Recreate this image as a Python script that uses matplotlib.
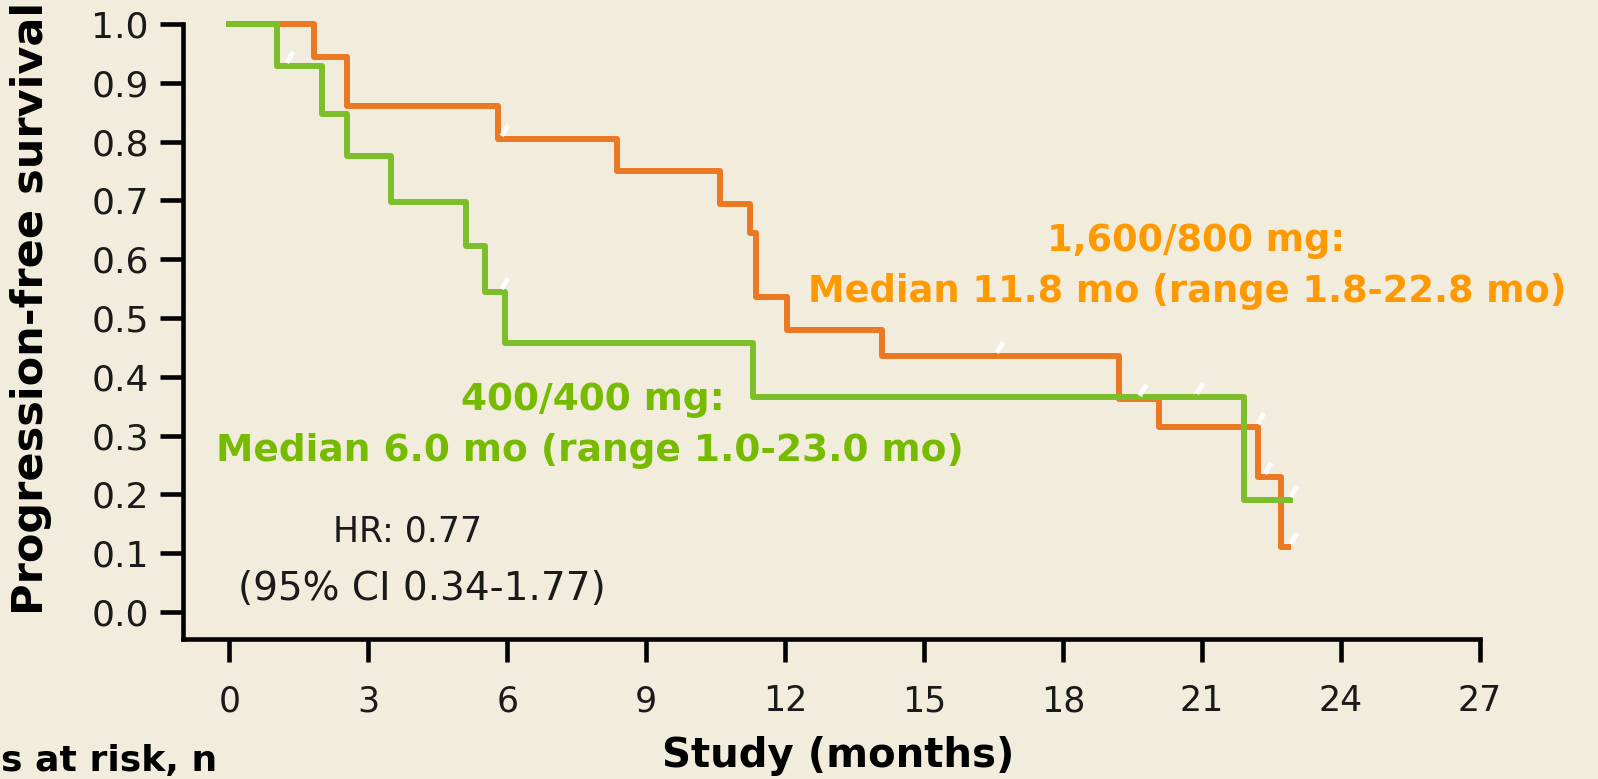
import numpy as np
import matplotlib.pyplot as plt
from matplotlib.path import Path

# Kaplan-Meier steps
t_high = [0, 1.82, 2.53, 5.8, 8.38, 10.6, 11.25, 11.36, 12.05, 14.1, 19.2, 20.07, 22.2, 22.7, 22.85]
s_high = [1.0, 0.944, 0.86, 0.805, 0.75, 0.694, 0.645, 0.535, 0.48, 0.436, 0.362, 0.314, 0.23, 0.11, 0.11]
t_low = [0, 1.04, 2.0, 2.55, 3.5, 5.1, 5.53, 5.96, 11.3, 21.9, 22.9]
s_low = [1.0, 0.928, 0.847, 0.776, 0.697, 0.622, 0.544, 0.457, 0.366, 0.19, 0.19]

# censored patients (months)
cens_high = [5.82, 16.5, 19.6, 22.15, 22.3, 22.85]
cens_low = [1.18, 5.82, 20.83, 22.85]

xticks = [0, 3, 6, 9, 12, 15, 18, 21, 24, 27]
yticks = [0.0, 0.1, 0.2, 0.3, 0.4, 0.5, 0.6, 0.7, 0.8, 0.9, 1.0]

bg = '#F2ECDD'
c_high = '#EB7823'
c_low = '#7DBE2D'
txt_high = '#FF9900'
txt_low = '#77BB00'

W, H = 1598, 779


def level_at(ts, ss, t):
    # survival value of a step curve at time t
    i = np.searchsorted(ts, t, side='right') - 1
    return np.asarray(ss)[i]


fig = plt.figure(figsize=(W / 100, H / 100), dpi=100)
fig.patch.set_facecolor(bg)
ax = fig.add_axes([183 / W, (H - 639) / H, (1480 - 183) / W, (639 - 24) / H])
ax.set_facecolor(bg)

ax.plot(t_high, s_high, drawstyle='steps-post', color=c_high, lw=4.3, clip_on=False, zorder=3)
ax.plot(t_low, s_low, drawstyle='steps-post', color=c_low, lw=4.3, clip_on=False, zorder=4)

# censor ticks: short white "/" strokes starting just above the line
tick_path = Path([(0.15, 0.25), (0.6, 1.0)], [Path.MOVETO, Path.LINETO])
for ct, ts, ss in [(cens_high, t_high, s_high), (cens_low, t_low, s_low)]:
    ax.plot(ct, [level_at(ts, ss, t) for t in ct], ls='none',
            marker=tick_path, ms=21, mew=3.5, mec='white', alpha=0.9, zorder=5, clip_on=False)

ax.set_xlim(-1, 27)
ax.set_ylim(-0.0459, 1.0)
ax.set_xticks(xticks)
ax.set_yticks(yticks)
ax.set_yticklabels(['%.1f' % v for v in yticks])

for side in ['top', 'right']:
    ax.spines[side].set_visible(False)
for side in ['left', 'bottom']:
    ax.spines[side].set_linewidth(3.3)
    ax.spines[side].set_color('black')

ax.tick_params(axis='both', direction='out', length=16.5, width=3.3, color='black')
ax.tick_params(axis='y', labelsize=26, pad=8, labelcolor='#1a1a1a')
ax.tick_params(axis='x', labelsize=25, pad=16, labelcolor='#1a1a1a')


def ftext(x, y, s, **kw):
    fig.text(x / W, 1 - y / H, s, ha='center', va='center', **kw)


ftext(1196, 240, '1,600/800 mg:', color=txt_high, fontsize=26.5, fontweight='bold')
ftext(1187, 291, 'Median 11.8 mo (range 1.8-22.8 mo)', color=txt_high, fontsize=26.5, fontweight='bold')
ftext(593, 400, '400/400 mg:', color=txt_low, fontsize=27, fontweight='bold')
ftext(590, 451, 'Median 6.0 mo (range 1.0-23.0 mo)', color=txt_low, fontsize=27, fontweight='bold')
ftext(408, 531, 'HR: 0.77', color='#1a1a1a', fontsize=25)
ftext(422, 589, '(95% CI 0.34-1.77)', color='#1a1a1a', fontsize=28)

ftext(838, 756, 'Study (months)', color='black', fontsize=29, fontweight='bold')
ftext(31, 308, 'Progression-free survival', color='black', fontsize=31, fontweight='bold', rotation=90)
fig.text(1 / W, 1 - 761 / H, 's at risk, n', ha='left', va='center',
         color='black', fontsize=26, fontweight='bold')

fig.savefig('out.png', dpi=100, facecolor=bg)
